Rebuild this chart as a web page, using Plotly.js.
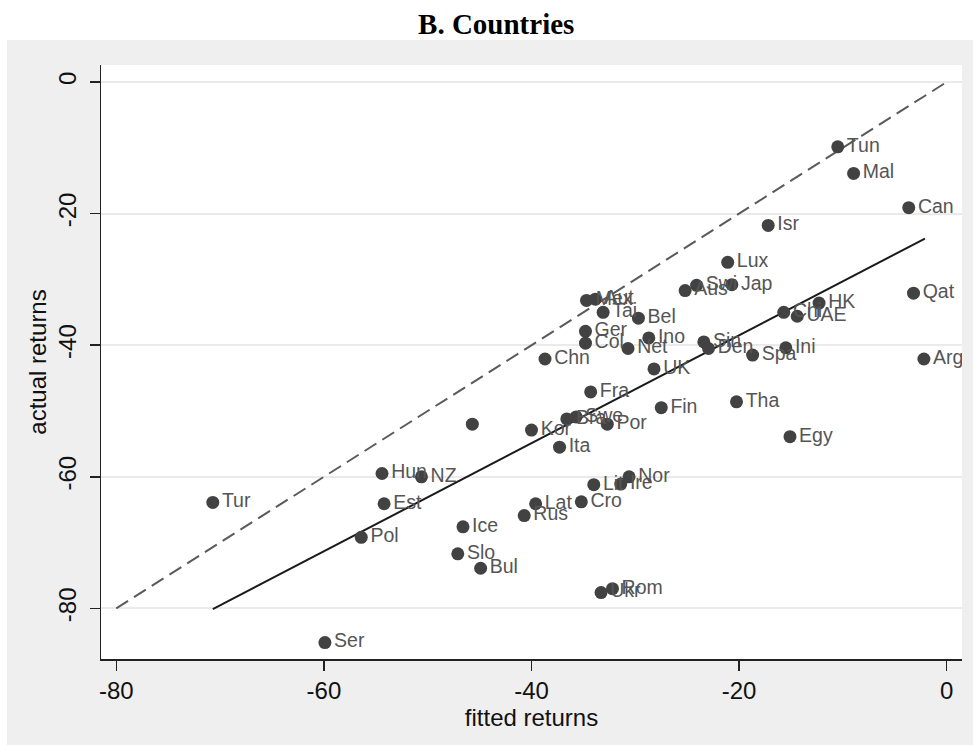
<!DOCTYPE html>
<html><head><meta charset="utf-8">
<script src="https://cdn.plot.ly/plotly-3.0.1.min.js"></script>
<style>body{margin:0;background:#fff}</style>
</head><body>
<div id="chart" style="width:973px;height:745px"></div>
<script>
const countries = ["Tun","Mal","Can","Isr","Lux","Jap","Swi","Aus","Qat","HK","Chi","UAE","Mex","Aut","Tai","Bel","Ger","Col","Net","Ino","Chn","UK","Sin","Den","Spa","Ini","Arg","Fra","Fin","Bra","Swe","Por","Kor","Ita","","Tha","Egy","Nor","Ire","Lit","Cro","Lat","Rus","Hun","NZ","Est","Pol","Ice","Slo","Bul","Rom","Ukr","Tur","Ser"];
const fitted = [-10.5,-8.97,-3.66,-17.2,-21.1,-20.7,-24.1,-25.2,-3.2,-12.3,-15.7,-14.4,-34.7,-33.85,-33.1,-29.7,-34.8,-34.8,-30.7,-28.7,-38.7,-28.2,-23.4,-22.95,-18.7,-15.5,-2.2,-34.3,-27.5,-36.6,-35.7,-32.7,-40.0,-37.3,-45.7,-20.25,-15.1,-30.6,-31.4,-34.0,-35.2,-39.6,-40.7,-54.4,-50.6,-54.2,-56.4,-46.6,-47.1,-44.9,-32.2,-33.3,-70.7,-59.9];
const actual = [-9.85,-13.9,-19.1,-21.8,-27.4,-30.8,-30.9,-31.7,-32.1,-33.6,-35.0,-35.6,-33.2,-33.0,-35.0,-35.9,-37.9,-39.7,-40.5,-38.9,-42.1,-43.6,-39.5,-40.5,-41.5,-40.4,-42.1,-47.1,-49.5,-51.2,-50.9,-52.0,-52.9,-55.5,-52.0,-48.6,-53.9,-60.0,-61.1,-61.2,-63.8,-64.1,-65.9,-59.5,-60.0,-64.1,-69.2,-67.6,-71.7,-73.9,-77.0,-77.6,-63.9,-85.2];
const diagX = [-80, 0];
const diagY = [-80, 0];
const fitX = [-70.7, -2.1];
const fitY = [-80.1, -23.8];
const yTicks = [0,-20,-40,-60,-80];
const xTicks = [-80,-60,-40,-20,0];

const F = 'Liberation Sans, Arial, Helvetica';
const traces = [
  {x: diagX, y: diagY, mode:'lines', line:{color:'#5a5a5a', width:2, dash:'14px,7px'}, hoverinfo:'skip'},
  {x: fitX, y: fitY, mode:'lines', line:{color:'#1a1a1a', width:2}, hoverinfo:'skip'},
  {x: fitted, y: actual, text: countries, mode:'markers+text', textposition:'middle right',
   marker:{color:'#424242', size:13}, textfont:{family:F, size:19.5, color:'#555555'}}
];
const layout = {
  width:973, height:745, showlegend:false,
  paper_bgcolor:'#efefef', plot_bgcolor:'#ffffff',
  margin:{l:101, r:11, t:65, b:86},
  title:{text:'<b>B. Countries</b>', font:{family:'Liberation Serif, Times New Roman', size:29, color:'#000'}, x:0.51, xanchor:'center', y:0.968, yanchor:'middle'},
  xaxis:{range:[-81.47,1.47], tickvals:xTicks, ticktext:xTicks.map(String), showgrid:false, zeroline:false,
    showline:true, linecolor:'#222', linewidth:1.5, ticks:'outside', ticklen:10, tickcolor:'#222', tickwidth:1.5,
    ticklabelstandoff:0,
    tickfont:{family:F, size:24, color:'#111'},
    title:{text:'fitted returns', font:{family:F, size:24, color:'#111'}, standoff:0}},
  yaxis:{range:[-87.69,2.58], tickvals:yTicks, ticktext:yTicks.map(String), tickangle:-90, showgrid:true, gridcolor:'#eaeaea', gridwidth:2, zeroline:false,
    showline:true, linecolor:'#222', linewidth:1.5, ticks:'outside', ticklen:10, tickcolor:'#222', tickwidth:1.5,
    ticklabelstandoff:4,
    tickfont:{family:F, size:24, color:'#111'},
    title:{text:'actual returns', font:{family:F, size:24, color:'#111'}, standoff:0}},
  shapes:[
    {type:'rect', xref:'paper', yref:'paper', x0:-0.1173, x1:1.0128, y0:1.0421, y1:1.1094, fillcolor:'#ffffff', line:{width:0}, layer:'below'},
    {type:'rect', xref:'paper', yref:'paper', x0:-0.1173, x1:-0.1092, y0:-0.15, y1:1.1094, fillcolor:'#ffffff', line:{width:0}, layer:'below'}
  ]
};
Plotly.newPlot('chart', traces, layout, {displayModeBar:false, staticPlot:true});
</script>
</body></html>
